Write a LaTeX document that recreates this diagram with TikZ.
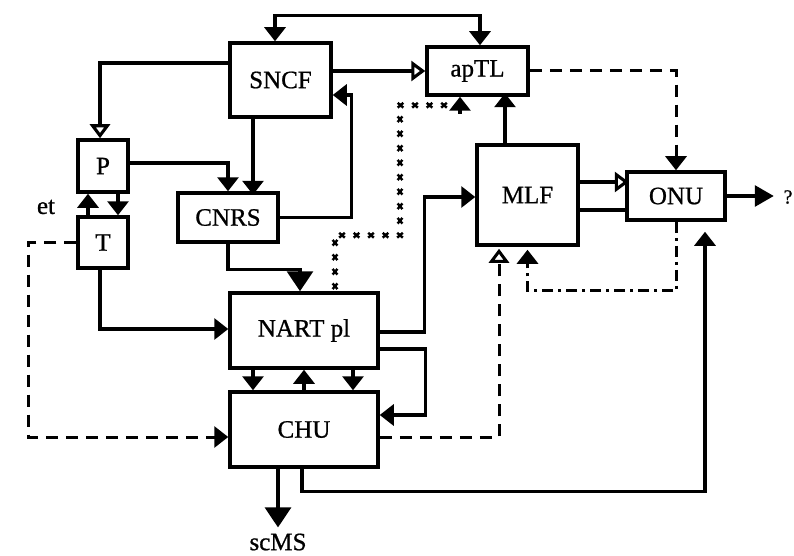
\documentclass[tikz,border=0pt]{standalone}
\usepackage{fontspec}
\setmainfont{Liberation Serif}
\newfontfamily\heavyfont[FakeBold=0.8]{Liberation Serif}
\usetikzlibrary{arrows.meta,decorations.markings}
\tikzset{
 box/.style={draw, line width=3.5pt, inner sep=0pt, font=\heavyfont\fontsize{25}{28}\selectfont},
 lbl/.style={inner sep=0pt, font=\heavyfont\fontsize{25}{28}\selectfont},
 conn/.style={line width=3.1pt},
 ft/.style={-{Triangle[width=21pt,length=14pt]}},
 ot/.style={-{Triangle[open,width=20pt,length=14pt,fill=white]}},
 bt/.style={-{Triangle[width=26pt,length=20pt]}},
 dsh/.style={line width=3pt, dash pattern=on 12pt off 8pt},
 dshdot/.style={line width=3pt, dash pattern=on 11pt off 5pt on 3pt off 5pt},
 crosses/.style={decoration={markings, mark=between positions 0 and 1 step 14.5pt with {\draw[line width=2.4pt, solid] (-2.8pt,-2.4pt)--(2.8pt,2.4pt) (-2.8pt,2.4pt)--(2.8pt,-2.4pt);}}, decorate}
}
\begin{document}
\begin{tikzpicture}[x=1pt,y=-1pt]
\useasboundingbox (0,0) rectangle (794,556);
% boxes
\node[box, minimum width=101pt, minimum height=74pt] (SNCF) at (280.5,80) {SNCF};
\node[box, minimum width=101pt, minimum height=48pt] (apTL) at (477.5,71) {apTL};
\node[box, minimum width=50pt, minimum height=52pt] (P) at (103,166) {P};
\node[box, minimum width=50pt, minimum height=51pt] (T) at (103,242.5) {T};
\node[box, minimum width=100pt, minimum height=49pt] (CNRS) at (228,217.5) {CNRS};
\node[box, minimum width=101pt, minimum height=100pt] (MLF) at (527.5,195) {MLF};
\node[box, minimum width=98pt, minimum height=48pt] (ONU) at (676,196) {ONU};
\node[box, minimum width=148pt, minimum height=75pt] (NART) at (304,330.5) {NART pl};
\node[box, minimum width=148pt, minimum height=75pt] (CHU) at (304,429.5) {CHU};
% labels
\node[lbl] (et) at (46,207) {et};
\node[lbl] (scMS) at (278,542) {scMS};
\node[lbl, font=\heavyfont\fontsize{20}{22}\selectfont] (q) at (788,197) {?};
% connectors
\draw[conn, {Triangle[width=21pt,length=14pt]}-{Triangle[width=21pt,length=14pt]}]
  ([xshift=-5.5pt]SNCF.north) -- ++(0,-26) -| ([xshift=2.5pt]apTL.north);
\draw[conn, ot] (SNCF.east |- apTL.west) -- (apTL.west);
\draw[conn, ot] ([yshift=17pt]SNCF.west) -| ([xshift=-3pt]P.north);
\draw[conn, ft] ([xshift=-27.5pt]SNCF.south) -- ++(0,76);
\draw[conn, ft] ([yshift=3pt]P.east) -| (CNRS.north);
\draw[conn, ft] (CNRS.east) -- ++(72,0) |- ([yshift=-15pt]SNCF.east);
\draw[conn, ft] ([xshift=-15pt]T.north) -- ([xshift=-15pt]P.south);
\draw[conn, ft] ([xshift=15pt]P.south) -- ([xshift=15pt]T.north);
\draw[dsh, ft] (T.west) -- ++(-48,0) |- ([yshift=-7.5pt]CHU.west);
\draw[conn, ft] ([xshift=-3pt]T.south) |- ([yshift=1.5pt]NART.west);
\draw[conn, bt] (CNRS.south) -- ++(0,26) -| ([xshift=-4pt]NART.north);
\path[crosses] ([xshift=31pt,yshift=5pt]NART.north) -- ++(0,-51) -- ++(65,0) -- ++(0,-130) -- ++(60,0);
\draw[conn, ft] ([xshift=-17.5pt,yshift=-17pt]apTL.south) -- ([xshift=-17.5pt]apTL.south);
\draw[conn, ft] ([xshift=-22.5pt]MLF.north) -- ++(0,-50);
\draw[conn, ft] ([yshift=-1.5pt]NART.east) -- ++(45,0) |- ([yshift=-2pt]MLF.west);
\draw[conn, ft] ([yshift=-18.5pt]NART.east) -- ++(46,0) |- ([yshift=14.5pt]CHU.east);
\draw[conn, ft] ([xshift=-51pt]NART.south) -- ([xshift=-51pt]CHU.north);
\draw[conn, ft] (CHU.north) -- (NART.south);
\draw[conn, ft] ([xshift=49pt]NART.south) -- ([xshift=49pt]CHU.north);
\draw[conn, bt] ([xshift=-26pt]CHU.south) -- ([yshift=6pt]scMS.north);
\draw[conn, ft] ([xshift=-2pt]CHU.south) -- ++(0,23) -| ([xshift=29pt,yshift=-10pt]ONU.south);
\draw[dsh, ot] ([yshift=-7.5pt]CHU.east) -| ([xshift=-28.5pt,yshift=-2pt]MLF.south);
\draw[dshdot] (ONU.south) -- ++(0,69) -| ([yshift=-17pt]MLF.south);
\draw[conn, ft] ([yshift=-17pt]MLF.south) -- ([yshift=-3pt]MLF.south);
\draw[conn, ot] ([yshift=13pt]MLF.east) -- ++(49,0);
\draw[conn] ([yshift=-15pt]MLF.east) -- ++(49,0);
\draw[dsh, ft] (apTL.east) -| (ONU.north);
\draw[conn, -{Triangle[width=21pt,length=19pt]}] (ONU.east) -- ++(47,0);
\end{tikzpicture}
\end{document}
